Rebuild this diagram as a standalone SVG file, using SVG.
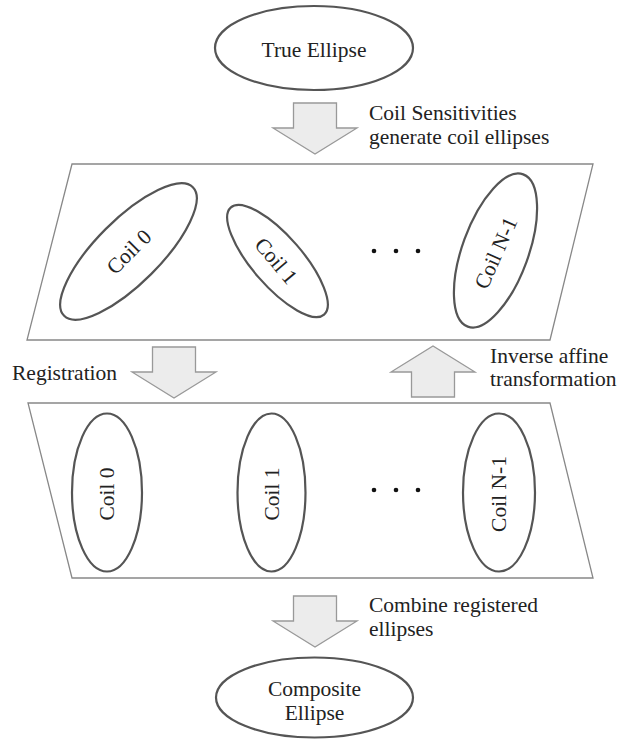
<svg xmlns="http://www.w3.org/2000/svg" width="619" height="740" viewBox="0 0 619 740">
<style>
text{font-family:"Liberation Serif","Times New Roman",serif;font-size:21.5px;fill:#222}
.node{fill:#fff;stroke:#555;stroke-width:2.2}
.plane{fill:#fff;stroke:#888;stroke-width:1.3}
.arrow{fill:#ececec;stroke:#999;stroke-width:1.3}
.c{text-anchor:middle}
.m{text-anchor:middle;dominant-baseline:central}
.dot{fill:#111}
</style>
<defs>
<path id="down" d="M-21.5,0 H21.5 V25 H42 L0,51 L-42,25 H-21.5 Z"/>
</defs>
<rect width="619" height="740" fill="#fff"/>

<g id="true-ellipse">
<ellipse class="node" cx="314" cy="48" rx="99" ry="42"/>
<text class="c" x="314" y="57">True Ellipse</text>
</g>

<g id="coil-plane">
<polygon class="plane" points="72,164 593,164 550,340 27,340"/>
</g>

<g id="coil0-top">
<ellipse class="node" cx="128.5" cy="251.5" rx="91" ry="32" transform="rotate(-45 128.5 251.5)"/>
<text class="m" x="129" y="252" transform="rotate(-45 129 252)">Coil 0</text>
</g>
<g id="coil1-top">
<ellipse class="node" cx="277.5" cy="261" rx="71" ry="25" transform="rotate(49 277.5 261)"/>
<text class="m" x="276" y="261" transform="rotate(50 276 261)">Coil 1</text>
</g>
<g id="dots-top">
<circle class="dot" cx="374" cy="251" r="2.3"/>
<circle class="dot" cx="396" cy="251" r="2.3"/>
<circle class="dot" cx="418" cy="251" r="2.3"/>
</g>
<g id="coilN-top">
<ellipse class="node" cx="495.5" cy="250.5" rx="33" ry="81" transform="rotate(20 495.5 250.5)"/>
<text class="m" x="496" y="253" transform="rotate(-66 496 253)">Coil N-1</text>
</g>

<g id="registered-plane">
<polygon class="plane" points="28,403 550,403 593,578 72,578"/>
</g>
<g id="coil0-reg">
<ellipse class="node" cx="107" cy="492.5" rx="35" ry="79"/>
<text class="m" x="107" y="494" transform="rotate(-90 107 494)">Coil 0</text>
</g>
<g id="coil1-reg">
<ellipse class="node" cx="271.5" cy="492.5" rx="34" ry="79"/>
<text class="m" x="271.5" y="494" transform="rotate(-90 271.5 494)">Coil 1</text>
</g>
<g id="dots-reg">
<circle class="dot" cx="374" cy="490" r="2.3"/>
<circle class="dot" cx="396" cy="490" r="2.3"/>
<circle class="dot" cx="418" cy="490" r="2.3"/>
</g>
<g id="coilN-reg">
<ellipse class="node" cx="499" cy="492.5" rx="36" ry="79"/>
<text class="m" x="499" y="494" transform="rotate(-90 499 494)">Coil N-1</text>
</g>

<g id="composite-ellipse">
<ellipse class="node" cx="314.5" cy="697.5" rx="98.5" ry="40"/>
<text class="c" x="314.5" y="696">Composite</text>
<text class="c" x="314.5" y="720">Ellipse</text>
</g>

<g id="connectors">
<use href="#down" class="arrow" transform="translate(315 103)"/>
<use href="#down" class="arrow" transform="translate(174 347)"/>
<use href="#down" class="arrow" transform="translate(433 397) scale(1 -1)"/>
<use href="#down" class="arrow" transform="translate(315 596)"/>
<text x="369" y="120">Coil Sensitivities</text>
<text x="369" y="144">generate coil ellipses</text>
<text x="12" y="380">Registration</text>
<text x="490" y="363">Inverse affine</text>
<text x="490" y="386">transformation</text>
<text x="369" y="612">Combine registered</text>
<text x="369" y="636">ellipses</text>
</g>
</svg>
